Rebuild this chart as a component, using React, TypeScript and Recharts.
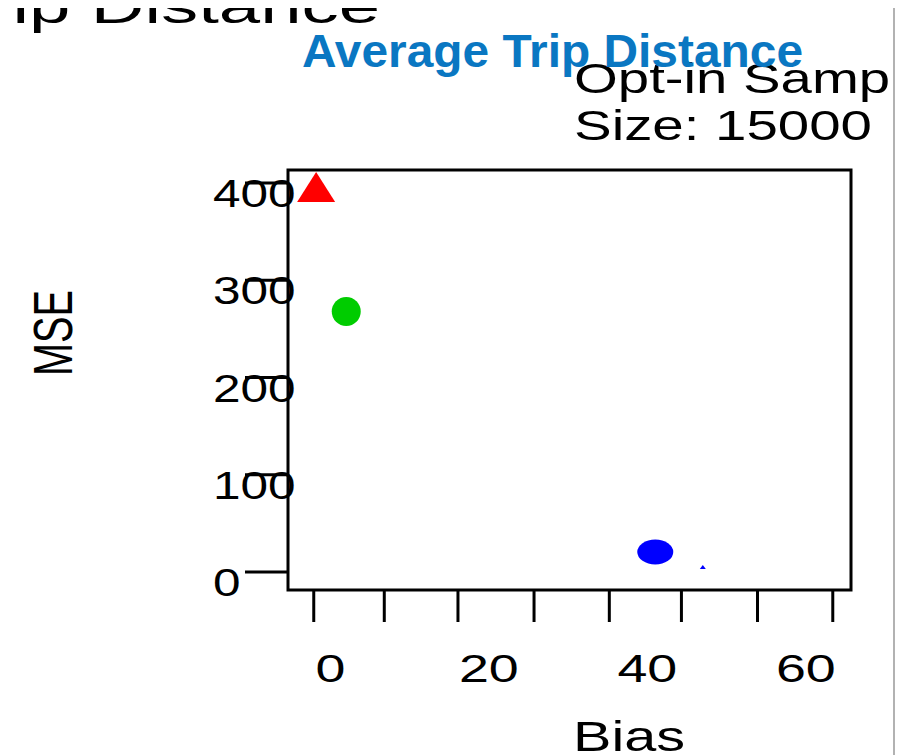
import React from "react";
import { ScatterChart, Scatter, XAxis, YAxis, ReferenceArea } from "recharts";

// values
const seriesNames = ["Method A", "Method B", "Method C", "Method D"];
const biasValues = [-1.8, 2.0, 41.0, 47.0];
const mseValues = [395, 268, 20.6, 5.1];
const seriesColors = ["#ff0000", "#00cc00", "#0000ff", "#0000ff"];
const seriesShapes = ["triangle", "blob", "ellipse", "smallTriangle"];

const xTickLineValues = [-2.1, 6.8, 16.1, 25.7, 35.2, 44.3, 53.9, 63.4];
const xLabelValues = [0, 20, 40, 60];
const yTickValues = [0, 100, 200, 300, 400];
const xDomain: [number, number] = [-5.35, 65.7];
const yDomain: [number, number] = [-18.5, 413.4];

const FONT = "'Liberation Sans', Arial, sans-serif";

const Marker = (props: any) => {
  const { cx, cy, kind, fill } = props;
  if (cx == null || cy == null) return null;
  if (kind === "triangle") {
    return <polygon points={`${cx},${cy - 16} ${cx + 19},${cy + 14} ${cx - 19},${cy + 14}`} fill={fill} />;
  }
  if (kind === "smallTriangle") {
    return <polygon points={`${cx},${cy - 2} ${cx + 3},${cy + 2} ${cx - 3},${cy + 2}`} fill={fill} />;
  }
  if (kind === "ellipse") {
    return <ellipse cx={cx} cy={cy} rx={18} ry={12.5} fill={fill} />;
  }
  return <circle cx={cx} cy={cy} r={14.5} fill={fill} />;
};

const YTick = (props: any) => {
  const { x, y, payload } = props;
  const label = String(payload.value);
  return (
    <text
      x={x - 30}
      y={y + 24}
      fontSize={39}
      fontFamily={FONT}
      fill="#000"
      textAnchor="start"
      textLength={label.length * 0.556 * 39 * 1.27}
      lengthAdjust="spacingAndGlyphs"
    >
      {label}
    </text>
  );
};

// one axis carries both the tick marks and the (offset) labels
const XTick = (props: any) => {
  const { x, y, payload } = props;
  const v = payload.value;
  if (xLabelValues.includes(v)) {
    const label = String(v);
    return (
      <text
        x={x}
        y={y + 92}
        fontSize={39}
        fontFamily={FONT}
        fill="#000"
        textAnchor="middle"
        textLength={label.length * 0.556 * 39 * 1.38}
        lengthAdjust="spacingAndGlyphs"
      >
        {label}
      </text>
    );
  }
  return <line x1={x} y1={y} x2={x} y2={y + 32} stroke="#000" strokeWidth={3} />;
};

const xAllTicks = [...xTickLineValues, ...xLabelValues].sort((a, b) => a - b);

export default function App() {
  return (
    <div style={{ position: "relative", width: 909, height: 755, margin: "-8px 0 0 -8px", background: "#fff", overflow: "hidden" }}>
      <div style={{ position: "absolute", left: 0, top: 0 }}>
        <ScatterChart width={909} height={755} margin={{ top: 170, right: 58, left: 0, bottom: 0 }}>
          <XAxis
            type="number"
            dataKey="bias"
            domain={xDomain}
            allowDataOverflow
            ticks={xAllTicks}
            interval={0}
            tick={<XTick />}
            tickSize={0}
            tickMargin={0}
            tickLine={false}
            axisLine={false}
            height={165}
          />
          <YAxis
            type="number"
            dataKey="mse"
            domain={yDomain}
            allowDataOverflow
            ticks={yTickValues}
            interval={0}
            tick={<YTick />}
            tickSize={43}
            tickLine={{ stroke: "#000", strokeWidth: 3 }}
            axisLine={false}
            width={288}
          />
          <ReferenceArea
            x1={xDomain[0]}
            x2={xDomain[1]}
            y1={yDomain[0]}
            y2={yDomain[1]}
            fill="none"
            fillOpacity={0}
            stroke="#000"
            strokeWidth={3}
          />
          {seriesNames.map((name, i) => (
            <Scatter
              key={name}
              name={name}
              data={[{ bias: biasValues[i], mse: mseValues[i] }]}
              fill={seriesColors[i]}
              shape={(p: any) => <Marker {...p} kind={seriesShapes[i]} fill={seriesColors[i]} />}
              isAnimationActive={false}
            />
          ))}
        </ScatterChart>
      </div>
      <svg width={909} height={755} style={{ position: "absolute", left: 0, top: 0, pointerEvents: "none" }}>
        <defs>
          <clipPath id="rightClip">
            <rect x={0} y={0} width={892} height={755} />
          </clipPath>
        </defs>
        <text x={-55} y={23} fontSize={48} fontFamily={FONT} fill="#000" textLength={435} lengthAdjust="spacingAndGlyphs">
          Trip Distance
        </text>
        <g clipPath="url(#rightClip)">
          <text x={574} y={93} fontSize={42} fontFamily={FONT} fill="#000" textLength={360} lengthAdjust="spacingAndGlyphs">
            Opt-in Sample
          </text>
        </g>
        <text x={574} y={140} fontSize={42} fontFamily={FONT} fill="#000" textLength={298} lengthAdjust="spacingAndGlyphs">
          Size: 15000
        </text>
        <text x={302} y={67} fontSize={46} fontWeight="bold" fontFamily={FONT} fill="#0a77c2" textLength={501} lengthAdjust="spacingAndGlyphs">
          Average Trip Distance
        </text>
        <text
          transform="translate(72,333) rotate(-90)"
          textAnchor="middle"
          fontSize={56}
          fontFamily={FONT}
          fill="#000"
          textLength={86}
          lengthAdjust="spacingAndGlyphs"
        >
          MSE
        </text>
        <text x={629} y={751} textAnchor="middle" fontSize={43} fontFamily={FONT} fill="#000" textLength={112} lengthAdjust="spacingAndGlyphs">
          Bias
        </text>
        <line x1={894} y1={8} x2={894} y2={755} stroke="#999" strokeWidth={1.5} />
      </svg>
    </div>
  );
}
